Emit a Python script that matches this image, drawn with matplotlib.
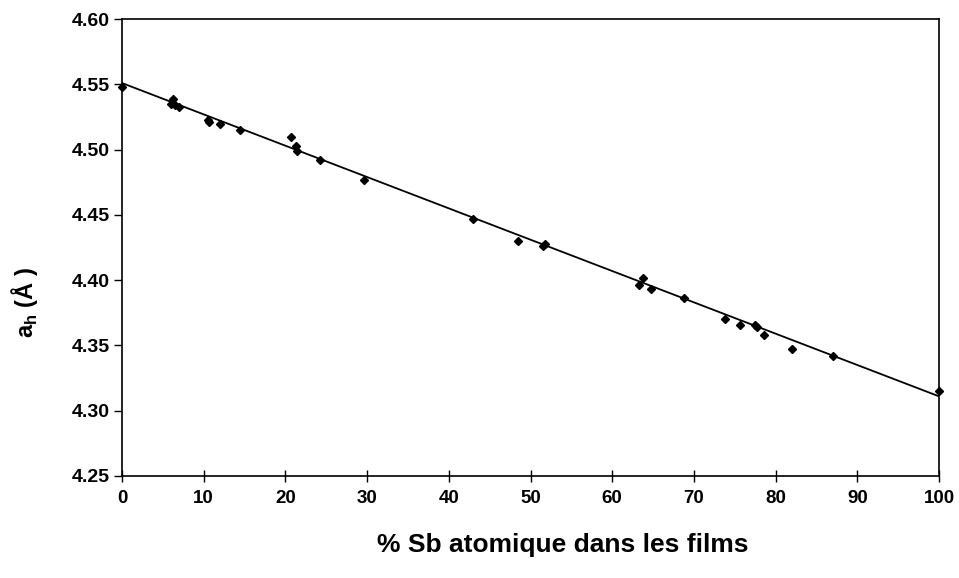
import matplotlib
matplotlib.use("Agg")
import matplotlib.pyplot as plt

plt.rcParams['font.family'] = ['Liberation Sans', 'DejaVu Sans']
plt.rcParams['mathtext.fontset'] = 'custom'
plt.rcParams['mathtext.rm'] = 'Liberation Sans'
plt.rcParams['mathtext.bf'] = 'Liberation Sans:bold'

sb_pct = [0, 6.0, 6.2, 6.5, 7.0, 10.5, 10.7, 12.0, 14.5, 20.7, 21.3, 21.4, 24.2,
          29.6, 43.0, 48.5, 51.5, 51.8, 63.3, 63.8, 64.8, 68.8, 73.8, 75.6, 77.5,
          77.7, 78.6, 82.0, 87.0, 100.0]
a_h = [4.548, 4.535, 4.539, 4.534, 4.533, 4.523, 4.521, 4.520, 4.515, 4.510, 4.503,
       4.499, 4.492, 4.477, 4.447, 4.430, 4.426, 4.428, 4.396, 4.402, 4.393, 4.386,
       4.370, 4.366, 4.366, 4.364, 4.358, 4.347, 4.342, 4.315]
fit_x = [0, 100]
fit_y = [4.551, 4.311]

xticks = list(range(0, 101, 10))
yticks = [4.25, 4.30, 4.35, 4.40, 4.45, 4.50, 4.55, 4.60]

fig = plt.figure(figsize=(9.59, 5.78), dpi=100)
ax = fig.add_axes([0.1272, 0.1765, 0.852, 0.7905])
ax.plot(fit_x, fit_y, color='black', lw=1.3, zorder=2)
ax.plot(sb_pct, a_h, linestyle='none', marker='D', markersize=4.5, color='black', zorder=3, clip_on=False)

ax.set_xlim(0, 100)
ax.set_ylim(4.25, 4.60)
ax.set_xticks(xticks)
ax.set_yticks(yticks)
ax.set_yticklabels([f"{v:.2f}" for v in yticks])
ax.tick_params(axis='x', direction='inout', length=8, width=1, labelsize=13.5, pad=6)
ax.tick_params(axis='y', direction='out', length=6, width=1, labelsize=14, pad=3)
for lab in ax.get_xticklabels() + ax.get_yticklabels():
    lab.set_fontweight('bold')
for s in ax.spines.values():
    s.set_linewidth(1.2)

ax.set_xlabel('% Sb atomique dans les films', fontsize=19, fontweight='bold')
ax.xaxis.set_label_coords(0.54, -0.125)
ax.set_ylabel(r'a$_\mathbf{h}$ (Å )', fontsize=17, fontweight='bold')
ax.yaxis.set_label_coords(-0.10, 0.38)

fig.savefig('out.png', dpi=100, facecolor='white')
